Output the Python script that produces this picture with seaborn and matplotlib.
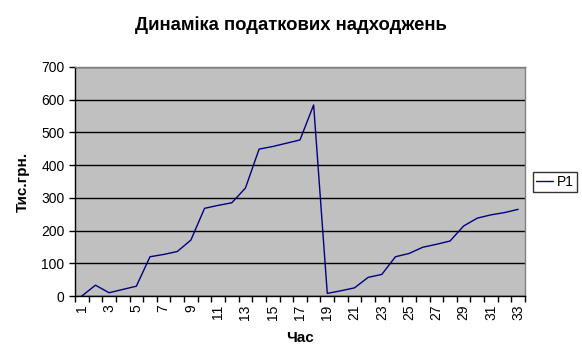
import numpy as np
import pandas as pd
import seaborn as sns
import matplotlib.pyplot as plt
from matplotlib.ticker import FixedLocator

# values
periods = list(range(1, 34))
p1 = [0, 33, 10, 20, 30, 120, 127, 136, 171, 268, 277, 285, 330, 449, 457, 467, 477, 584,
      8, 16, 25, 57, 66, 120, 130, 149, 158, 168, 214, 238, 248, 255, 265]
yticks = [0, 100, 200, 300, 400, 500, 600, 700]

df = pd.DataFrame({"Час": periods, "P1": p1})

sns.set_style("white")
plt.rcParams['font.family'] = ['Liberation Sans', 'DejaVu Sans']
plt.rcParams['text.color'] = 'black'
plt.rcParams['axes.labelcolor'] = 'black'
plt.rcParams['xtick.color'] = 'black'
plt.rcParams['ytick.color'] = 'black'

fig = plt.figure(figsize=(5.82, 3.62), dpi=100)
ax = fig.add_axes([75 / 582, 66 / 362, 450 / 582, 229 / 362])
ax.set_facecolor("#c0c0c0")

sns.lineplot(data=df, x="Час", y="P1", color="#000080", linewidth=1.0, ax=ax, label="P1")

ax.set_xlim(0.5, 33.5)
ax.set_ylim(0, 700)
ax.set_yticks(yticks)
ax.yaxis.grid(True, color="black", linewidth=1.0)
ax.set_axisbelow(True)

ax.xaxis.set_major_locator(FixedLocator(periods[::2]))
ax.set_xticklabels([str(p) for p in periods[::2]], rotation=90, fontsize=10)
ax.xaxis.set_minor_locator(FixedLocator(np.arange(0.5, 34, 1)))
ax.tick_params(axis="x", which="major", length=0, pad=6)
ax.tick_params(axis="x", which="minor", length=4, width=1, color="black", direction="out", bottom=True)
ax.tick_params(axis="y", length=4, width=1, color="black", direction="out", labelsize=10, left=True)

for side in ["top", "right"]:
    ax.spines[side].set_color("#808080")
    ax.spines[side].set_linewidth(1.0)
for side in ["left", "bottom"]:
    ax.spines[side].set_color("black")
    ax.spines[side].set_linewidth(1.0)

ax.set_xlabel("Час", fontsize=11, fontweight="bold", labelpad=8)
ax.set_ylabel("Тис.грн.", fontsize=11, fontweight="bold", labelpad=8)
fig.suptitle("Динаміка податкових надходжень", fontsize=13.3, fontweight="bold", y=0.955)

leg = ax.legend(loc="center", bbox_to_anchor=(555 / 582, 180 / 362), bbox_transform=fig.transFigure,
                frameon=True, fancybox=False, edgecolor="black", fontsize=10,
                handlelength=1.2, handletextpad=0.3, borderpad=0.25, borderaxespad=0)
leg.get_frame().set_linewidth(1.0)

fig.savefig("out.png", dpi=100, facecolor="white")
